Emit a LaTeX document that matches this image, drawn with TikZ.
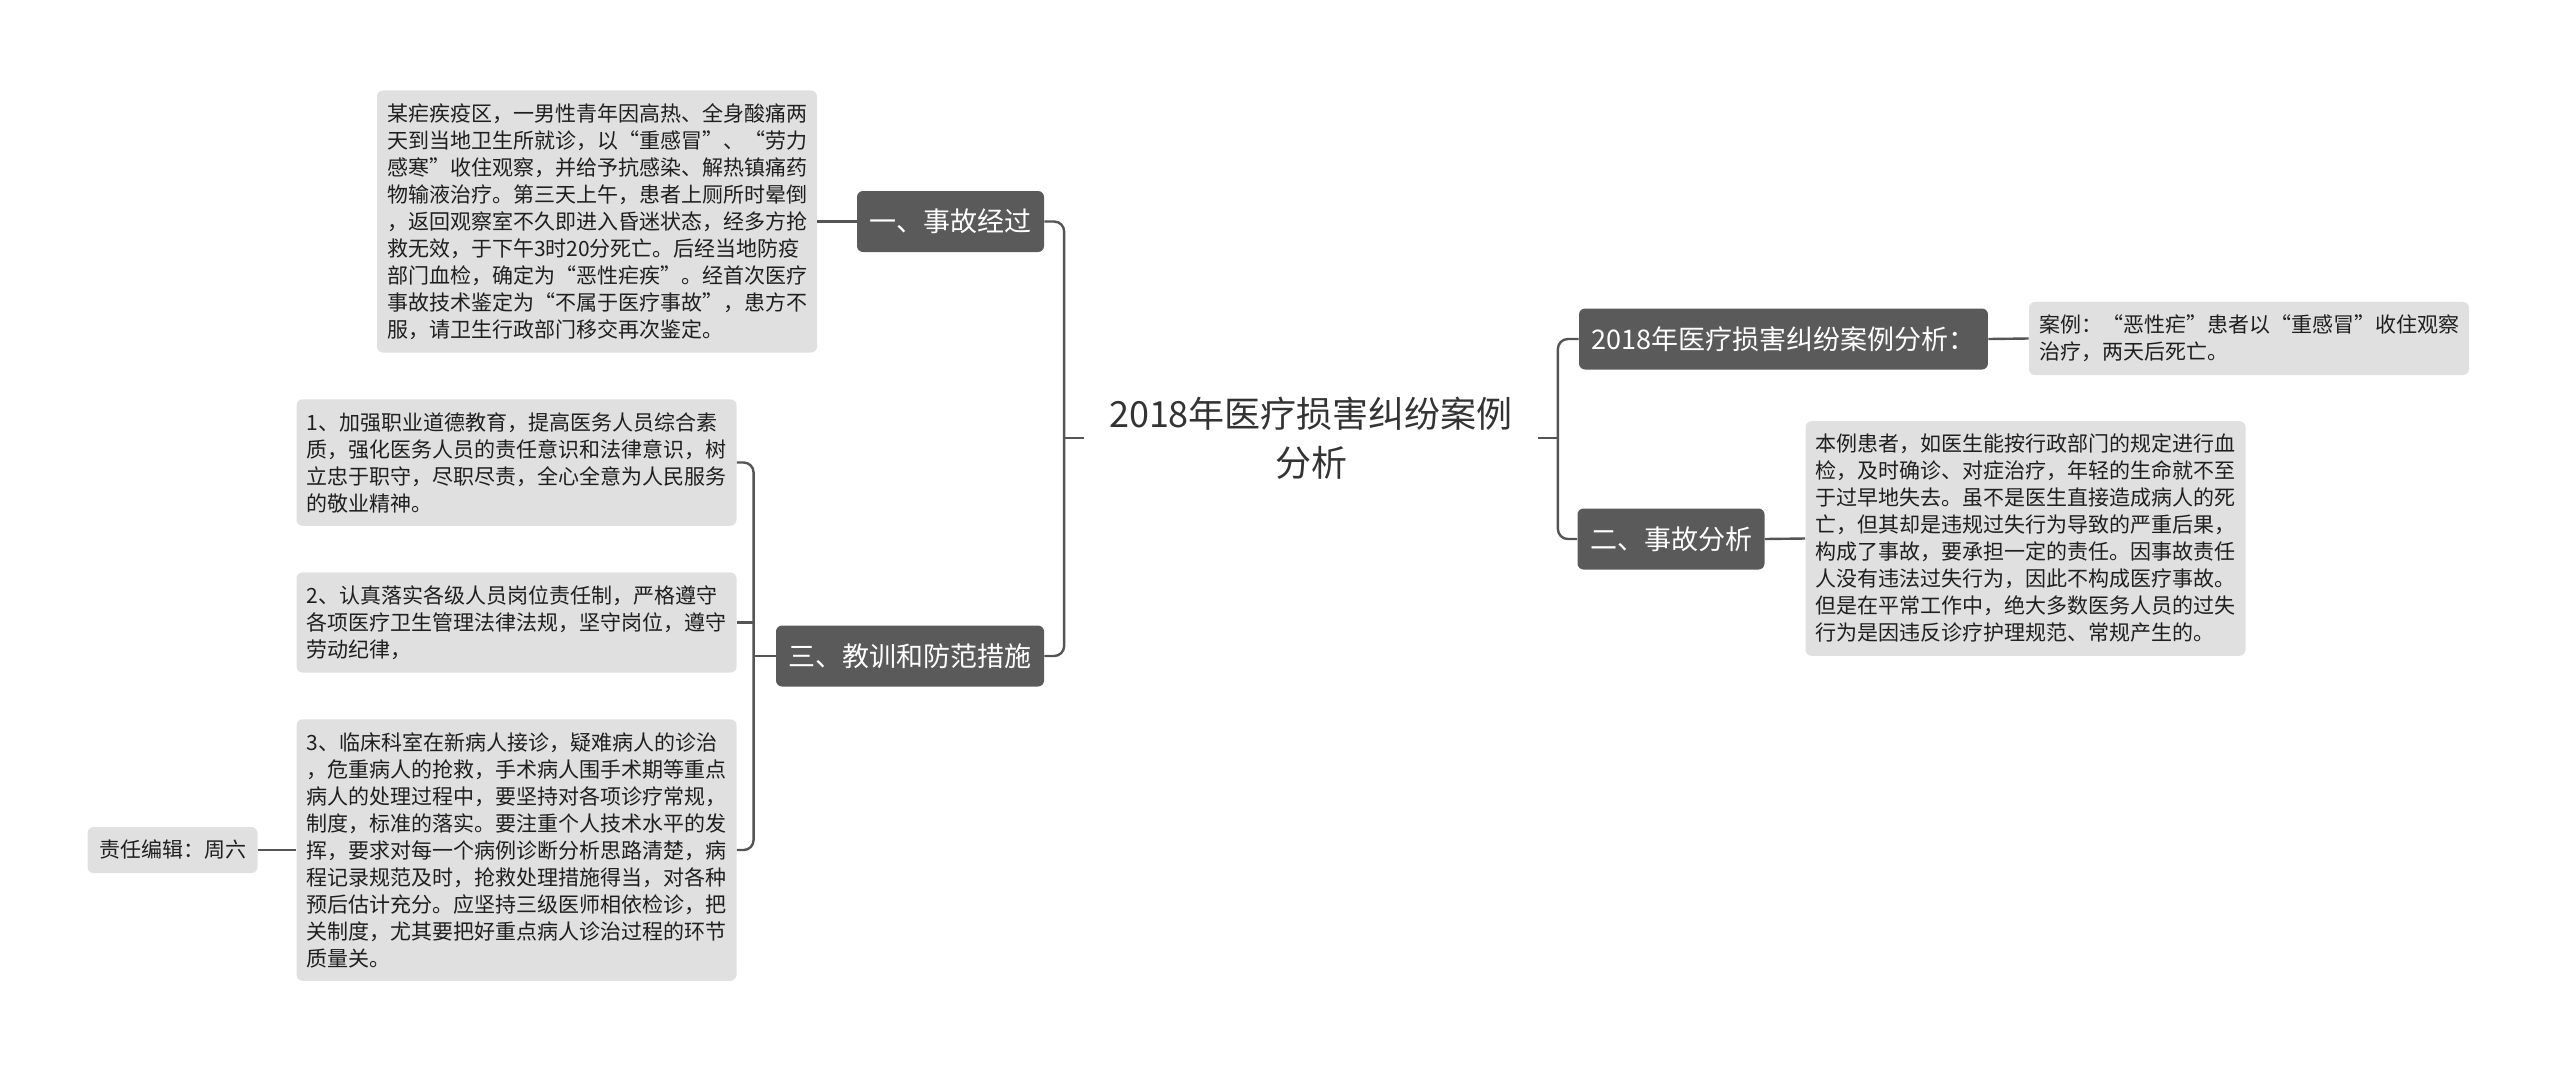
\documentclass[tikz,border=0pt]{standalone}
\usepackage{fontspec}
\setmainfont{Noto Sans CJK SC}

\definecolor{topicfill}{HTML}{5A5A5A}
\definecolor{detailfill}{HTML}{E0E0E0}
\definecolor{linkgray}{HTML}{555555}
\definecolor{roottext}{HTML}{333333}

\tikzset{
  topic/.style={fill=topicfill, text=white, rounded corners=3pt,
    font=\fontsize{13.5pt}{16pt}\selectfont,
    minimum height=30.5pt, inner xsep=6.25pt, inner ysep=0pt},
  detail/.style={fill=detailfill, text=black!88, rounded corners=3pt,
    font=\fontsize{10.5pt}{13.5pt}\selectfont,
    text width=210pt, align=left, inner xsep=5pt, inner ysep=6.5pt},
  link/.style={draw=linkgray, line width=1.2pt, rounded corners=5pt},
}

\begin{document}
\begin{tikzpicture}[x=0.5pt, y=-0.5pt]

  \useasboundingbox (0,0) rectangle (2560,1072);

  % ----------------------------------------------------------------
  % Root
  % ----------------------------------------------------------------
  \node[font=\fontsize{18pt}{24.5pt}\selectfont, text=roottext,
        align=center, inner xsep=12.25pt] (root) at (1311,438)
        {2018年医疗损害纠纷案例\\分析};

  \coordinate (jl) at ([xshift=-10pt]root.west);
  \coordinate (jr) at ([xshift=10pt]root.east);

  % ----------------------------------------------------------------
  % Left: 一、事故经过 / 三、教训和防范措施
  % ----------------------------------------------------------------
  \node[topic] (acc) at (950.5,221.5) {一、事故经过};
  \node[topic] (les) at (910,656)     {三、教训和防范措施};

  \node[detail] (accd) at (597,221.5) {某疟疾疫区，一男性青年因高热、全身酸痛两\\
    天到当地卫生所就诊，以“重感冒”、“劳力\\
    感寒”收住观察，并给予抗感染、解热镇痛药\\
    物输液治疗。第三天上午，患者上厕所时晕倒\\
    ，返回观察室不久即进入昏迷状态，经多方抢\\
    救无效，于下午3时20分死亡。后经当地防疫\\
    部门血检，确定为“恶性疟疾”。经首次医疗\\
    事故技术鉴定为“不属于医疗事故”，患方不\\
    服，请卫生行政部门移交再次鉴定。};

  \node[detail] (les1) at (516.5,462.5) {1、加强职业道德教育，提高医务人员综合素\\
    质，强化医务人员的责任意识和法律意识，树\\
    立忠于职守，尽职尽责，全心全意为人民服务\\
    的敬业精神。};
  \node[detail] (les2) at (516.5,622.5) {2、认真落实各级人员岗位责任制，严格遵守\\
    各项医疗卫生管理法律法规，坚守岗位，遵守\\
    劳动纪律，};
  \node[detail] (les3) at (516.5,850) {3、临床科室在新病人接诊，疑难病人的诊治\\
    ，危重病人的抢救，手术病人围手术期等重点\\
    病人的处理过程中，要坚持对各项诊疗常规，\\
    制度，标准的落实。要注重个人技术水平的发\\
    挥，要求对每一个病例诊断分析思路清楚，病\\
    程记录规范及时，抢救处理措施得当，对各种\\
    预后估计充分。应坚持三级医师相依检诊，把\\
    关制度，尤其要把好重点病人诊治过程的环节\\
    质量关。};

  \node[detail, text width=, inner xsep=5.75pt, minimum height=23pt,
        inner ysep=0pt] (editor) at (172.5,850) {责任编辑：周六};

  \coordinate (jt) at ([xshift=-11pt]les.west);

  % ----------------------------------------------------------------
  % Right: 2018年医疗损害纠纷案例分析： / 二、事故分析
  % ----------------------------------------------------------------
  \node[topic] (case) at (1783.5,339) {2018年医疗损害纠纷案例分析：};
  \node[topic] (ana)  at (1671,539)   {二、事故分析};

  \node[detail] (cased) at (2249,338.5) {案例：“恶性疟”患者以“重感冒”收住观察\\
    治疗，两天后死亡。};
  \node[detail] (anad) at (2025.5,538.5) {本例患者，如医生能按行政部门的规定进行血\\
    检，及时确诊、对症治疗，年轻的生命就不至\\
    于过早地失去。虽不是医生直接造成病人的死\\
    亡，但其却是违规过失行为导致的严重后果，\\
    构成了事故，要承担一定的责任。因事故责任\\
    人没有违法过失行为，因此不构成医疗事故。\\
    但是在平常工作中，绝大多数医务人员的过失\\
    行为是因违反诊疗护理规范、常规产生的。};

  % ----------------------------------------------------------------
  % Links
  % ----------------------------------------------------------------
  \draw[link] (acc.east) -| (jl) |- (les.east);
  \draw[link] (jl) -- (root.west);
  \draw[link] (case.west) -| (jr) |- (ana.west);
  \draw[link] (jr) -- (root.east);

  \draw[link] (accd.east) -- (acc.west);
  \draw[link] (les1.east) -| (jt) |- (les3.east);
  \draw[link] (les2.east) -- (les2.east -| jt);
  \draw[link] (les.west) -- (jt);
  \draw[link] (editor.east) -- (les3.west);

  \draw[link] (case.east) -- (cased.west);
  \draw[link] (ana.east) -- (anad.west);

\end{tikzpicture}
\end{document}
